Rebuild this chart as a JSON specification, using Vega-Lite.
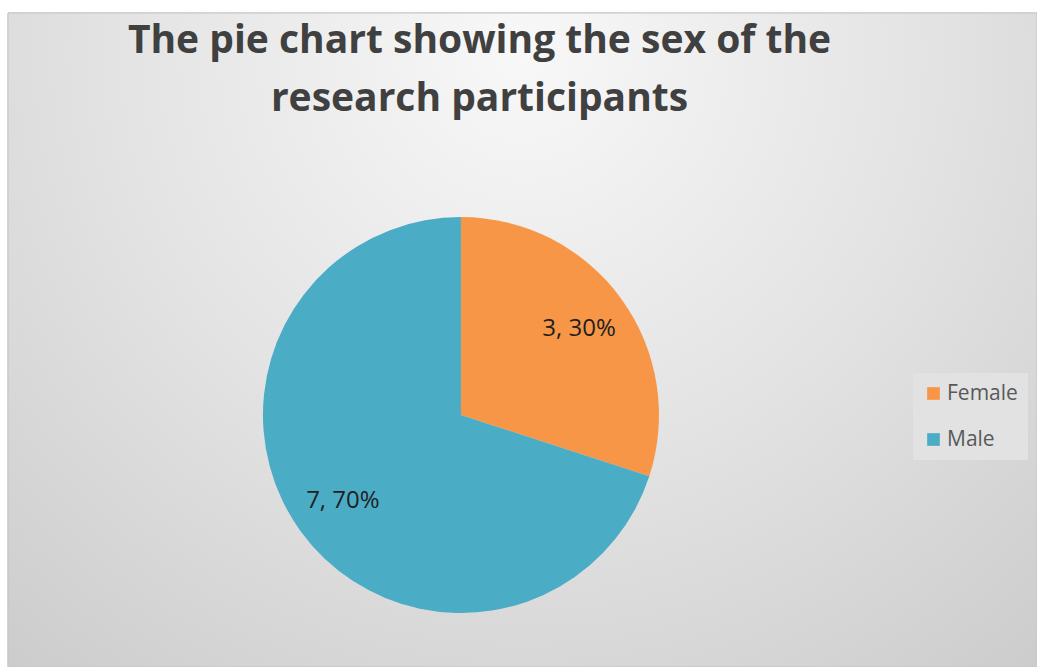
{
  "$schema": "https://vega.github.io/schema/vega-lite/v6.json",
  "width": 1029,
  "height": 654,
  "autosize": {"type": "none"},
  "padding": {"left": 8, "top": 13, "right": 0, "bottom": 0},
  "background": "white",
  "config": {"view": {"stroke": null}},
  "title": {
    "text": ["The pie chart showing the sex of the", "research participants"],
    "font": "Open Sans",
    "fontSize": 39,
    "fontWeight": "bold",
    "color": "#404040",
    "lineHeight": 58,
    "anchor": "middle",
    "frame": "group",
    "baseline": "alphabetic",
    "offset": -137,
    "dx": -43
  },
  "data": {
    "values": [
      {"sex": "Female", "count": 3, "label": "3, 30%", "order": 1},
      {"sex": "Male", "count": 7, "label": "7, 70%", "order": 2}
    ]
  },
  "layer": [
    {
      "mark": {
        "type": "rect",
        "fill": {
          "gradient": "radial",
          "x1": 0.5, "y1": 0.22, "r1": 0,
          "x2": 0.5, "y2": 0.22, "r2": 0.8,
          "stops": [
            {"offset": 0, "color": "#f8f8f8"},
            {"offset": 0.5, "color": "#e3e3e3"},
            {"offset": 1, "color": "#cbcbcb"}
          ]
        },
        "stroke": "#c4c4c4",
        "strokeWidth": 1
      },
      "encoding": {}
    },
    {
      "mark": {"type": "arc", "radius": 198, "x": {"expr": "width*0.4402"}, "y": {"expr": "height*0.6147"}},
      "encoding": {
        "theta": {"field": "count", "type": "quantitative", "stack": true},
        "order": {"field": "order", "type": "quantitative"},
        "color": {
          "field": "sex",
          "type": "nominal",
          "scale": {"domain": ["Female", "Male"], "range": ["#F79646", "#4BACC6"]},
          "legend": {
            "title": null,
            "orient": "none",
            "legendX": 905,
            "legendY": 360,
            "symbolType": "square",
            "symbolSize": 160,
            "symbolStrokeWidth": 0,
            "labelFont": "Open Sans",
            "labelFontSize": 21,
            "labelColor": "#595959",
            "labelOffset": 3,
            "rowPadding": 24,
            "padding": 10,
            "fillColor": "#e2e2e2",
            "strokeColor": null
          }
        }
      }
    },
    {
      "mark": {"type": "text", "radius": 146, "x": {"expr": "width*0.4402"}, "y": {"expr": "height*0.6147"}, "font": "Open Sans", "fontSize": 24, "color": "#1f1f1f"},
      "encoding": {
        "theta": {"field": "count", "type": "quantitative", "stack": true},
        "order": {"field": "order", "type": "quantitative"},
        "text": {"field": "label", "type": "nominal"}
      }
    }
  ]
}
